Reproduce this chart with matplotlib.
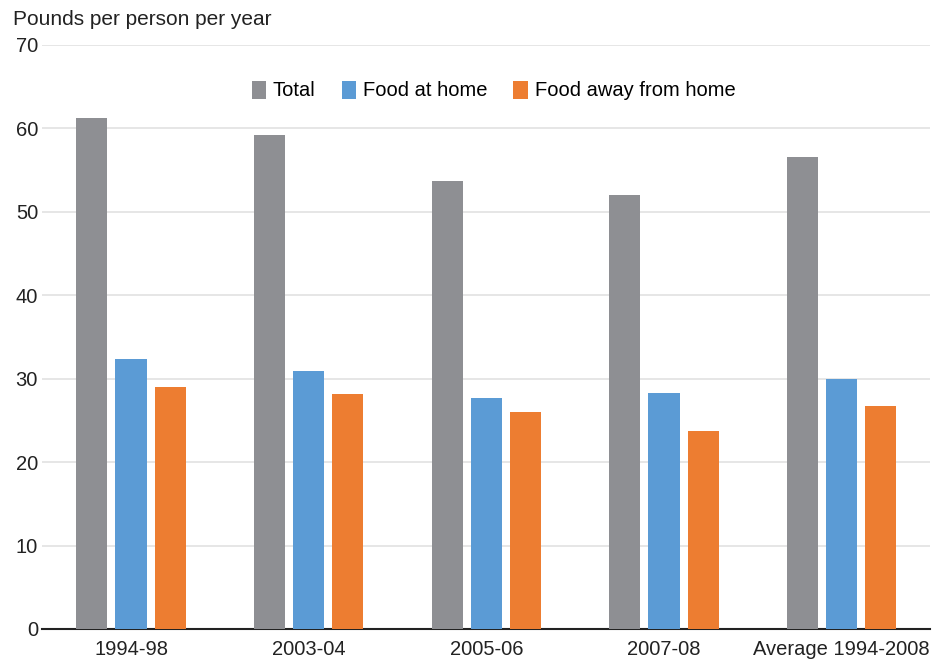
import matplotlib.pyplot as plt
import numpy as np

plt.rcParams['font.family'] = ['Liberation Sans', 'DejaVu Sans']

# pounds per person per year, by survey period
periods = ['1994-98', '2003-04', '2005-06', '2007-08', 'Average 1994-2008']
total = [61.2, 59.2, 53.7, 52.0, 56.6]
at_home = [32.4, 30.9, 27.7, 28.3, 29.9]
away = [29.0, 28.2, 26.0, 23.7, 26.7]

series = [('Total', total, '#8e8f93'),
          ('Food at home', at_home, '#5b9bd5'),
          ('Food away from home', away, '#ed7d31')]

fig = plt.figure(figsize=(9.38, 6.6), dpi=100)
ax = fig.add_axes([0.045, 0.047, 0.947, 0.885])

x = np.arange(len(periods))
w = 0.175
step = 0.22
for i, (name, vals, col) in enumerate(series):
    ax.bar(x + (i - 1) * step, vals, w, color=col, label=name, zorder=3)

ax.set_xlim(-0.5, len(periods) - 0.5)
ax.set_ylim(0, 70)
ax.set_yticks(range(0, 71, 10))
ax.set_xticks(x)
ax.set_xticklabels(periods)
ax.tick_params(length=0, labelsize=14.5, colors='#222222')
ax.tick_params(axis='y', pad=3)
ax.tick_params(axis='x', pad=8)
ax.grid(axis='y', color='#e2e2e2', linewidth=1.2, zorder=0)

for s in ['top', 'right', 'left']:
    ax.spines[s].set_visible(False)
ax.spines['bottom'].set_color('#222222')
ax.spines['bottom'].set_linewidth(1.5)

fig.text(0.014, 0.97, 'Pounds per person per year', fontsize=15,
         color='#222222', va='center')

ax.legend(loc='upper center', bbox_to_anchor=(0.508, 0.97), ncol=3,
          frameon=False, fontsize=14.5, handlelength=0.7, handleheight=1.0,
          handletextpad=0.35, columnspacing=1.3)

fig.savefig('out.png', dpi=100)
